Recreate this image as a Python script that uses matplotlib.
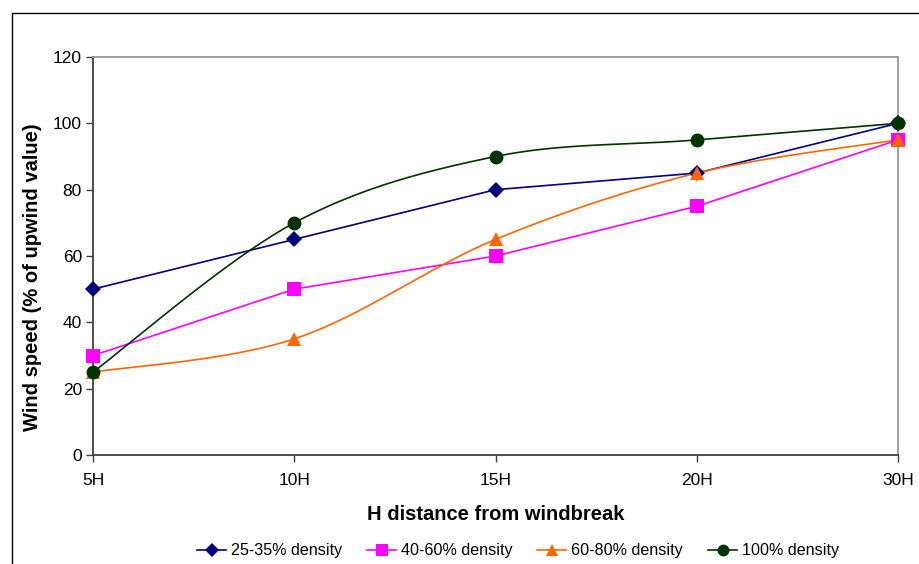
import matplotlib.pyplot as plt
import numpy as np
from matplotlib.patches import Rectangle

distances = ["5H", "10H", "15H", "20H", "30H"]
density_25_35 = [50, 65, 80, 85, 100]
density_40_60 = [30, 50, 60, 75, 95]
density_60_80 = [25, 35, 65, 85, 95]
density_100 = [25, 70, 90, 95, 100]


def smooth_curve(x, y, steps=40):
    """Cubic Bezier smoothing through every point (spreadsheet style)."""
    pts = np.column_stack([x, y]).astype(float)
    padded = np.vstack([pts[0], pts, pts[-1]])
    out = [pts[0]]
    t = np.linspace(0, 1, steps)[1:, None]
    for i in range(len(pts) - 1):
        p0, p3 = padded[i + 1], padded[i + 2]
        c1 = p0 + (padded[i + 2] - padded[i]) / 6
        c2 = p3 - (padded[i + 3] - padded[i + 1]) / 6
        seg = ((1 - t) ** 3) * p0 + 3 * ((1 - t) ** 2) * t * c1 + 3 * (1 - t) * t ** 2 * c2 + t ** 3 * p3
        out.extend(seg)
    out = np.array(out)
    return out[:, 0], out[:, 1]


plt.rcParams['font.family'] = ['Liberation Sans', 'DejaVu Sans']

fig = plt.figure(figsize=(9.19, 5.64), dpi=100)
ax = fig.add_axes([93 / 919, 1 - 455 / 564, (898 - 93) / 919, (455 - 57) / 564])

# outer chart frame
fig.patches.append(Rectangle((11.5 / 919, -0.1), 1.2, 1 - 12.5 / 564 + 0.1, transform=fig.transFigure,
                             fill=False, edgecolor='black', linewidth=1.0))

x = np.arange(len(distances))
series = [
    ("25-35% density", density_25_35, '#000080', 'D', 7.8, False),
    ("40-60% density", density_40_60, '#FF00FF', 's', 9.4, False),
    ("60-80% density", density_60_80, '#FF6600', '^', 10, True),
    ("100% density", density_100, '#003300', 'o', 10, True),
]

handles = []
for label, vals, color, marker, ms, smooth in series:
    if smooth:
        sx, sy = smooth_curve(x, vals)
    else:
        sx, sy = x, vals
    ax.plot(sx, sy, color=color, linewidth=1.2, zorder=2)
    ax.plot(x, vals, linestyle='none', marker=marker, markersize=ms, color=color, zorder=3,
            markeredgewidth=0, clip_on=False)
    h, = ax.plot([], [], color=color, marker=marker, markersize=ms * 0.85, linewidth=1.2,
                 markeredgewidth=0, label=label)
    handles.append(h)

ax.set_xlim(0, len(distances) - 1)
ax.set_ylim(0, 120)
ax.set_yticks(range(0, 121, 20))
ax.set_xticks(x)
ax.set_xticklabels(distances)
ax.tick_params(axis='both', labelsize=12.5, length=5, width=1, color='#404040', direction='out')
ax.tick_params(axis='x', pad=8)
ax.tick_params(axis='y', pad=3)

for side in ['left', 'bottom']:
    ax.spines[side].set_color('#404040')
    ax.spines[side].set_linewidth(1.3)
for side in ['top', 'right']:
    ax.spines[side].set_color('#999999')
    ax.spines[side].set_linewidth(1.3)

ax.set_xlabel("H distance from windbreak", fontsize=14.5, fontweight='bold', labelpad=12)
ax.set_ylabel("Wind speed (% of upwind value)", fontsize=14.5, fontweight='bold')
ax.yaxis.set_label_coords(-0.063, 0.447)

fig.legend(handles=handles, loc='center', bbox_to_anchor=(518 / 919, 1 - 551 / 564), ncol=4,
           frameon=False, fontsize=11.6, handlelength=1.8, columnspacing=1.55, handletextpad=0.3)

fig.savefig("out.png", dpi=100)
